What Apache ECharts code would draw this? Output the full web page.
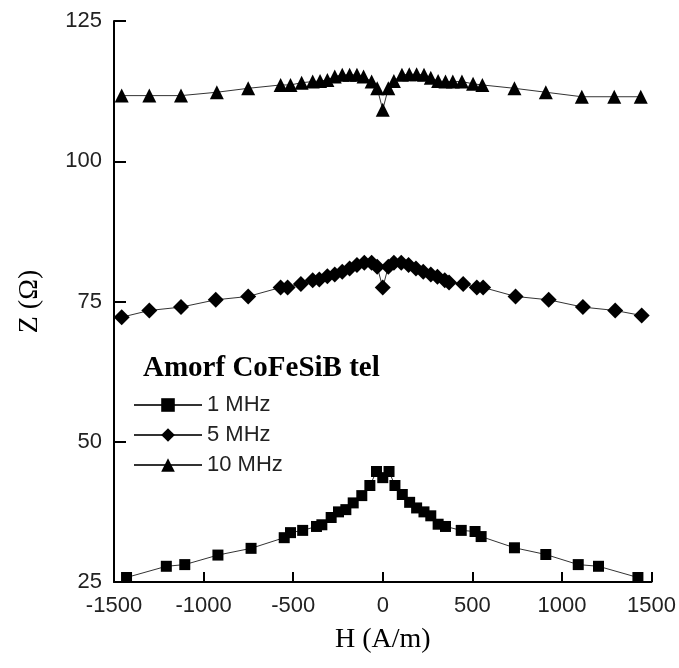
<!DOCTYPE html>
<html>
<head>
<meta charset="utf-8">
<script src="https://cdn.jsdelivr.net/npm/echarts@6/dist/echarts.min.js"></script>
<style>
  html, body { margin: 0; padding: 0; background: #fff; }
  #chart { width: 679px; height: 668px; }
</style>
</head>
<body>
<div id="chart"></div>
<script>
// H (A/m) and Z (Ohm)
var h1 = [-1430, -1208, -1105, -920, -735, -550, -515, -447, -370, -340, -288, -247, -206, -165, -117, -72, -35, 0, 35, 68, 109, 150, 189, 230, 268, 309, 350, 438, 515, 549, 735, 910, 1091, 1204, 1424];
var z1 = [25.8, 27.8, 28.1, 29.8, 31.0, 32.9, 33.8, 34.2, 34.9, 35.2, 36.5, 37.5, 37.9, 39.1, 40.4, 42.2, 44.7, 43.6, 44.7, 42.2, 40.6, 39.2, 38.2, 37.5, 36.8, 35.3, 34.9, 34.2, 34.0, 33.1, 31.1, 29.9, 28.1, 27.8, 25.8];

var h5 = [-1457, -1303, -1126, -932, -751, -570, -531, -457, -391, -354, -309, -268, -226, -185, -144, -103, -62, -31, 0, 31, 62, 103, 144, 185, 226, 268, 305, 346, 370, 449, 525, 560, 741, 926, 1117, 1297, 1445];
var z5 = [72.2, 73.4, 74.0, 75.3, 75.9, 77.5, 77.5, 78.1, 78.8, 78.9, 79.5, 79.8, 80.3, 80.9, 81.5, 81.9, 81.9, 81.2, 77.5, 81.2, 81.9, 81.9, 81.5, 80.9, 80.3, 79.8, 79.4, 78.8, 78.4, 78.1, 77.5, 77.5, 75.9, 75.3, 74.0, 73.4, 72.5];

var h10 = [-1457, -1303, -1126, -926, -751, -570, -515, -453, -391, -350, -309, -268, -226, -185, -144, -107, -62, -31, 0, 31, 62, 107, 148, 189, 230, 268, 309, 350, 391, 442, 504, 556, 735, 910, 1111, 1292, 1440];
var z10 = [111.7, 111.7, 111.7, 112.3, 113.0, 113.6, 113.6, 114.0, 114.2, 114.3, 114.5, 115.1, 115.4, 115.4, 115.4, 115.1, 114.2, 113.0, 109.2, 113.0, 114.3, 115.4, 115.5, 115.5, 115.4, 114.9, 114.3, 114.2, 114.2, 114.2, 113.8, 113.6, 113.0, 112.3, 111.5, 111.5, 111.5];

var names = ['1 MHz', '5 MHz', '10 MHz'];
var xTicks = [-1500, -1000, -500, 0, 500, 1000, 1500];
var yTicks = [25, 50, 75, 100, 125];

function pairs(h, z) {
    return h.map(function (v, i) { return [v, z[i]]; });
}

var tickFont = { fontFamily: 'Liberation Sans', fontSize: 22, color: '#222' };
var axisLine = { show: true, onZero: false, lineStyle: { color: '#000', width: 2 } };

function lineSeries(name, data, symbol, size) {
    return {
        name: name,
        type: 'line',
        data: data,
        symbol: symbol,
        symbolSize: size,
        showAllSymbol: true,
        lineStyle: { color: '#333', width: 1 },
        itemStyle: { color: '#000' },
        animation: false
    };
}

var option = {
    backgroundColor: '#fff',
    animation: false,
    title: {
        text: 'Amorf CoFeSiB tel',
        left: 138,
        top: 349,
        textStyle: { fontFamily: 'Liberation Serif', fontWeight: 'bold', fontSize: 29, color: '#000' }
    },
    legend: {
        orient: 'vertical',
        left: 128,
        top: 389,
        itemWidth: 68,
        itemHeight: 17,
        itemGap: 8,
        data: names,
        textStyle: { fontFamily: 'Liberation Sans', fontSize: 22, color: '#222' }
    },
    grid: { left: 114, right: 27, top: 21, bottom: 86 },
    xAxis: {
        type: 'value',
        min: xTicks[0],
        max: xTicks[xTicks.length - 1],
        interval: 500,
        name: 'H (A/m)',
        nameLocation: 'middle',
        nameGap: 44,
        nameTextStyle: { fontFamily: 'Liberation Serif', fontSize: 28, color: '#000' },
        axisLine: axisLine,
        axisTick: { show: true, inside: true, length: 10, lineStyle: { color: '#000', width: 2 } },
        axisLabel: Object.assign({ margin: 13, formatter: function (v) { return String(v); } }, tickFont),
        splitLine: { show: false }
    },
    yAxis: {
        type: 'value',
        min: yTicks[0],
        max: yTicks[yTicks.length - 1],
        interval: 25,
        name: 'Z (Ω)',
        nameLocation: 'middle',
        nameGap: 70,
        nameTextStyle: { fontFamily: 'Liberation Serif', fontSize: 28, color: '#000' },
        axisLine: axisLine,
        axisTick: { show: true, inside: true, length: 12, lineStyle: { color: '#000', width: 2 } },
        axisLabel: Object.assign({ margin: 12 }, tickFont),
        splitLine: { show: false }
    },
    series: [
        lineSeries(names[0], pairs(h1, z1), 'rect', 11),
        lineSeries(names[1], pairs(h5, z5), 'diamond', 16),
        lineSeries(names[2], pairs(h10, z10), 'triangle', 14)
    ]
};

var myChart = echarts.init(document.getElementById('chart'));
myChart.setOption(option);
</script>
</body>
</html>
